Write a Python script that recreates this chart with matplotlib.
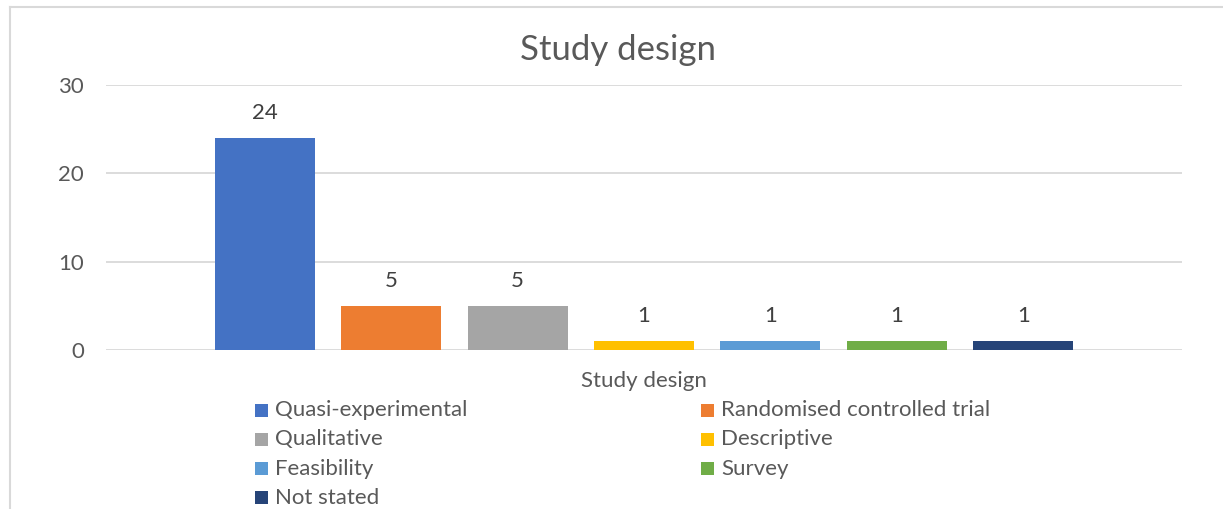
import matplotlib
matplotlib.use("Agg")
import matplotlib.pyplot as plt
from matplotlib.lines import Line2D

plt.rcParams['font.family'] = ['Lato', 'DejaVu Sans']

designs = ['Quasi-experimental', 'Randomised controlled trial', 'Qualitative',
           'Descriptive', 'Feasibility', 'Survey', 'Not stated']
counts = [24, 5, 5, 1, 1, 1, 1]
colors = ['#4472C4', '#ED7D31', '#A5A5A5', '#FFC000', '#5B9BD5', '#70AD47', '#264478']
yticks = [0, 10, 20, 30]

text_col = '#595959'
grid_col = '#D9D9D9'

fig = plt.figure(figsize=(12.23, 5.09), dpi=100)
ax = fig.add_axes([106 / 1223, 159 / 509, 1076 / 1223, 265 / 509])

x = list(range(len(designs)))
bars = ax.bar(x, counts, width=0.79, color=colors, zorder=3)
for b, v in zip(bars, counts):
    ax.annotate(str(v), (b.get_x() + b.get_width() / 2, v), xytext=(0, 18),
                textcoords='offset points', ha='center', va='center',
                fontsize=16, color='#404040')

ax.set_xlim(-1.255, 7.255)
ax.set_ylim(0, 30)
ax.set_yticks(yticks)
ax.set_xticks([])
ax.yaxis.grid(True, color=grid_col, linewidth=1.3, zorder=0)
ax.tick_params(axis='y', length=0, labelsize=16, labelcolor=text_col, pad=16)
for s in ax.spines.values():
    s.set_visible(False)

fig.text(618 / 1223, 1 - 50 / 509, 'Study design', ha='center', va='center',
         fontsize=25, color=text_col)
fig.text(644 / 1223, 1 - 381 / 509, 'Study design', ha='center', va='center',
         fontsize=16, color=text_col)

# legend, two columns filled row by row
for i, lab in enumerate(designs):
    col, row = i % 2, i // 2
    xl = [255, 701][col] / 1223
    yl = 1 - (410 + row * 29.3) / 509
    fig.patches.append(plt.Rectangle((xl, yl - 6.5 / 509), 13 / 1223, 13 / 509,
                                     transform=fig.transFigure, facecolor=colors[i],
                                     edgecolor='none'))
    fig.text(xl + 20 / 1223, yl, lab, ha='left', va='center', fontsize=16, color=text_col)

# chart frame (left and top visible)
fig.add_artist(Line2D([10 / 1223, 10 / 1223], [0, 1 - 7 / 509], transform=fig.transFigure,
                      color=grid_col, linewidth=1.5))
fig.add_artist(Line2D([10 / 1223, 1], [1 - 7 / 509, 1 - 7 / 509], transform=fig.transFigure,
                      color=grid_col, linewidth=1.5))

fig.savefig('out.png', dpi=100, facecolor='white')
